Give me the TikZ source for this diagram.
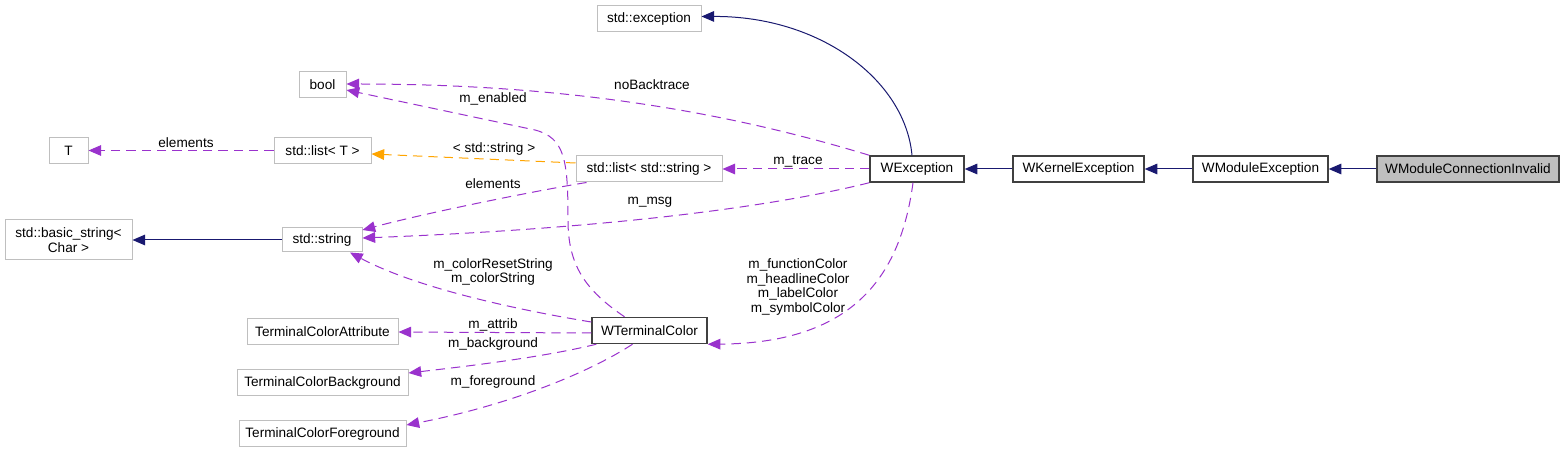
\documentclass[tikz,border=0pt]{standalone}
\usepackage{fontspec}
\setmainfont{Liberation Sans}
\usetikzlibrary{arrows.meta,calc}
\definecolor{edgepurple}{HTML}{9A32CD}
\definecolor{navyedge}{HTML}{191970}
\definecolor{boxgray}{HTML}{BFBFBF}
\definecolor{darkborder}{HTML}{404040}
\definecolor{orangeedge}{HTML}{FFA500}
\begin{document}
\begin{tikzpicture}[x=0.75pt,y=-0.75pt,
  font=\fontsize{10.2}{11}\selectfont,
  box/.style={draw=boxgray, line width=0.75pt, fill=white, inner sep=0pt, minimum height=19.5pt, align=center},
  mainbox/.style={box, draw=darkborder, line width=1.1pt},
  bw/.style={minimum width=#1*0.75pt},
  bh/.style={minimum height=#1*0.75pt},
  tip/.style={-{Triangle[length=9.5pt,width=8pt]}},
  inh/.style={tip, draw=navyedge, line width=0.75pt},
  use/.style={tip, draw=edgepurple, line width=0.75pt, dash pattern=on 7pt off 4.5pt},
  tmpl/.style={tip, draw=orangeedge, line width=0.75pt, dash pattern=on 7pt off 4.5pt},
  lbl/.style={inner sep=0pt, align=center, font=\fontsize{10.2}{11}\selectfont}
]
\useasboundingbox (0,0) rectangle (1564,452);
\fill[white] (0,0) rectangle (1564,452);

% nodes
\node[box, bw=104] (exc) at (649,18.5) {std::exception};
\node[box, bw=47] (bool) at (322.5,85) {bool};
\node[box, bw=39] (T) at (68.5,150.5) {T};
\node[box, bw=97] (listT) at (322.5,150.5) {std::list< T >};
\node[box, bw=146] (lists) at (649,169) {std::list< std::string >};
\node[mainbox, bw=94] (wexc) at (917,169) {WException};
\node[mainbox, bw=131] (wkern) at (1078.5,169) {WKernelException};
\node[mainbox, bw=135] (wmod) at (1260.5,169) {WModuleException};
\node[mainbox, bw=182, fill=boxgray] (wmci) at (1468,169) {WModuleConnectionInvalid};
\node[box, bw=127, bh=40] (basic) at (68.5,240) {std::basic\_string<\\Char >};
\node[box, bw=80, bh=24] (str) at (322,240) {std::string};
\node[box, bw=151] (tca) at (322.5,332) {TerminalColorAttribute};
\node[box, bw=171] (tcb) at (322.5,382.5) {TerminalColorBackground};
\node[box, bw=167] (tcf) at (322.5,433.5) {TerminalColorForeground};
\node[mainbox, bw=115] (wtc) at (649.5,330.5) {WTerminalColor};

% inheritance
\draw[inh] ($(wexc.north)+(-5,0)$) .. controls (905,80) and (820,16) .. ($(exc.east)+(0,-2)$);
\draw[inh] (wkern) -- (wexc);
\draw[inh] (wmod) -- (wkern);
\draw[inh] (wmci) -- (wmod);
\draw[inh] (str) -- (basic);

% usage
\draw[use] (wexc.north west) .. controls (720,110) and (560,84) .. ($(bool.east)+(0,-1)$);
\node[lbl] (lnoback) at (652,85) {noBacktrace};

\draw[use] ($(wtc.north)+(-25,0)$) .. controls (585,290) and (568,265) .. (568,220)
  .. controls (568,160) and (565,138) .. (535,130) -- ($(bool.east)+(0,5)$);
\node[lbl] (lenabled) at (493,99) {m\_enabled};

\draw[tmpl] ($(lists.west)+(0,-6)$) -- ($(listT.east)+(0,3.5)$);
\node[lbl] (lstr) at (494,149) {< std::string >};

\draw[use] (listT) -- (T);
\node[lbl] (lel1) at (186,143) {elements};

\draw[use] ($(lists.south west)+(11,0)$) .. controls (540,190) and (430,212) .. ($(str.east)+(0,-10)$);
\node[lbl] (lel2) at (493,184) {elements};

\draw[use] (wexc) -- (lists);
\node[lbl] (ltrace) at (798,161) {m\_trace};

\draw[use] (wexc.south west) .. controls (780,205) and (620,228) .. ($(str.east)+(0,-2)$);
\node[lbl] (lmsg) at (650,202) {m\_msg};

\draw[use] ($(wtc.west)+(0,-8.5)$) .. controls (530,312) and (420,290) .. ($(str.south)+(28,0)$);
\node[lbl] (lcol) at (493,272) {m\_colorResetString\\m\_colorString};

\draw[use] ($(wtc.west)+(0,2.5)$) -- (tca.east);
\node[lbl] (lattr) at (493,325) {m\_attrib};

\draw[use] ($(wtc.south west)+(5,0)$) .. controls (540,358) and (460,367) .. ($(tcb.east)+(0,-9.5)$);
\node[lbl] (lbg) at (493,344) {m\_background};

\draw[use] ($(wtc.south)+(-17,0)$) .. controls (590,372) and (510,405) .. ($(tcf.east)+(0,-8.5)$);
\node[lbl] (lfg) at (493,382) {m\_foreground};

\draw[use] ($(wexc.south)+(-4,0)$) .. controls (900,280) and (850,343) .. (wtc.south east);
\node[lbl] (lcolors) at (798,287) {m\_functionColor\\m\_headlineColor\\m\_labelColor\\m\_symbolColor};
\end{tikzpicture}
\end{document}
